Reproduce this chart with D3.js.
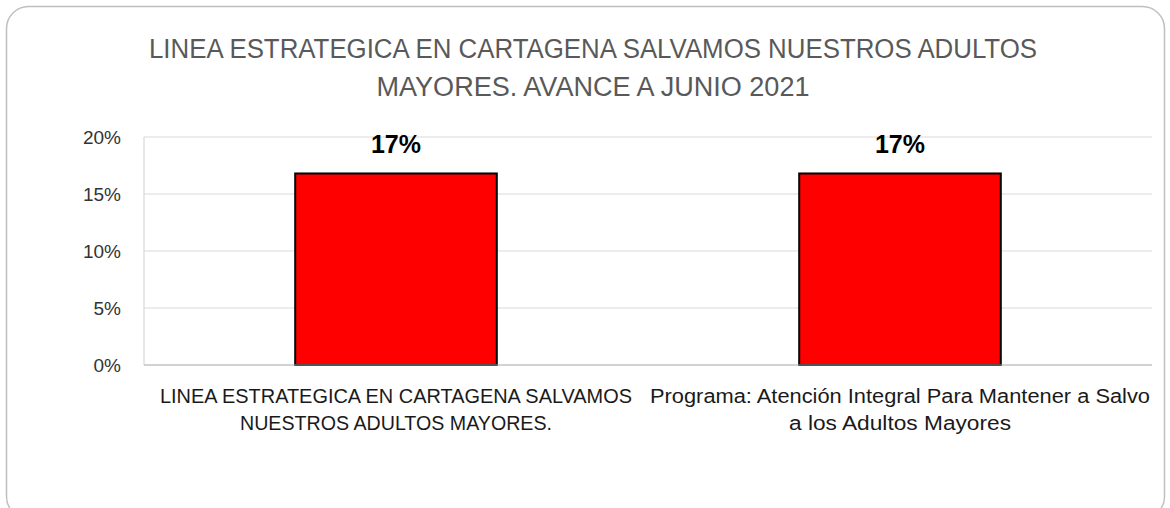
<!DOCTYPE html>
<html><head><meta charset="utf-8">
<script src="https://cdn.jsdelivr.net/npm/d3@7"></script>
<style>html,body{margin:0;padding:0;background:#fff;}svg{display:block;}</style>
</head><body>
<svg id="c" width="1170" height="508"></svg>
<script>
const titleLines = ["LINEA ESTRATEGICA EN CARTAGENA SALVAMOS NUESTROS ADULTOS", "MAYORES. AVANCE A JUNIO 2021"];
const categories = ["LINEA ESTRATEGICA EN CARTAGENA SALVAMOS NUESTROS ADULTOS MAYORES.", "Programa: Atención Integral Para Mantener a Salvo a los Adultos Mayores"];
const categoryLines = [["LINEA ESTRATEGICA EN CARTAGENA SALVAMOS", "NUESTROS ADULTOS MAYORES."], ["Programa: Atención Integral Para Mantener a Salvo", "a los Adultos Mayores"]];
const values = [0.168, 0.168];
const yTicks = [0, 0.05, 0.10, 0.15, 0.20];

const svg = d3.select("#c");
const font = "'Liberation Sans', Arial, sans-serif";

// card
svg.append("rect").attr("x", 6.5).attr("y", 6.5).attr("width", 1158).attr("height", 512)
  .attr("rx", 22).attr("fill", "#fff").attr("stroke", "#bfbfbf").attr("stroke-width", 1.5);

function fitText(sel, w) {
  sel.each(function() {
    d3.select(this).attr("textLength", w).attr("lengthAdjust", "spacingAndGlyphs");
  });
}

// title
const titleW = [888, 433];
const titleY = [58, 96];
titleLines.forEach((t, i) => {
  svg.append("text").attr("x", 593).attr("y", titleY[i]).attr("text-anchor", "middle")
    .attr("font-family", font).attr("font-size", 27).attr("fill", "#595959").text(t)
    .call(fitText, titleW[i]);
});

const m = {left: 144, right: 1152, top: 137, bottom: 365};
const x = d3.scaleBand().domain(categories).range([m.left, m.right]).paddingInner(0.6).paddingOuter(0.3);
const y = d3.scaleLinear().domain([0, 0.20]).range([m.bottom, m.top]);

// gridlines
svg.append("g").selectAll("line").data(yTicks.filter(d => d > 0)).join("line")
  .attr("x1", m.left).attr("x2", m.right).attr("y1", d => y(d)).attr("y2", d => y(d))
  .attr("stroke", "#d9d9d9").attr("stroke-width", 1.2);

// y axis line
svg.append("line").attr("x1", m.left).attr("x2", m.left).attr("y1", m.top).attr("y2", m.bottom)
  .attr("stroke", "#d9d9d9").attr("stroke-width", 1.2);

// y tick labels
const yAxis = d3.axisLeft(y).tickValues(yTicks).tickFormat(d3.format(".0%")).tickSize(0).tickPadding(23);
const ya = svg.append("g").attr("transform", `translate(${m.left},0)`).call(yAxis);
ya.select(".domain").remove();
ya.selectAll("text").attr("font-family", font).attr("font-size", 19).attr("fill", "#333");

// bars
svg.append("g").selectAll("rect").data(values).join("rect")
  .attr("x", (d, i) => x(categories[i])).attr("width", x.bandwidth())
  .attr("y", d => y(d)).attr("height", d => y(0) - y(d))
  .attr("fill", "#ff0000").attr("stroke", "#000").attr("stroke-width", 2);

// x axis line
svg.append("line").attr("x1", m.left).attr("x2", m.right).attr("y1", m.bottom).attr("y2", m.bottom)
  .attr("stroke", "#a6a6a6").attr("stroke-width", 1.2);

// data labels
svg.append("g").selectAll("text").data(values).join("text")
  .attr("x", (d, i) => x(categories[i]) + x.bandwidth() / 2).attr("y", d => y(d) - 20)
  .attr("text-anchor", "middle").attr("font-family", font).attr("font-weight", "bold")
  .attr("font-size", 25).attr("fill", "#000").text(d => d3.format(".0%")(d));

// category labels
const catW = [[472, 312], [500, 222]];
categories.forEach((c, i) => {
  const cx = x(c) + x.bandwidth() / 2;
  categoryLines[i].forEach((t, j) => {
    svg.append("text").attr("x", cx).attr("y", 403 + j * 27).attr("text-anchor", "middle")
      .attr("font-family", font).attr("font-size", 20).attr("fill", "#1a1a1a").text(t)
      .call(fitText, catW[i][j]);
  });
});
</script>
</body></html>
